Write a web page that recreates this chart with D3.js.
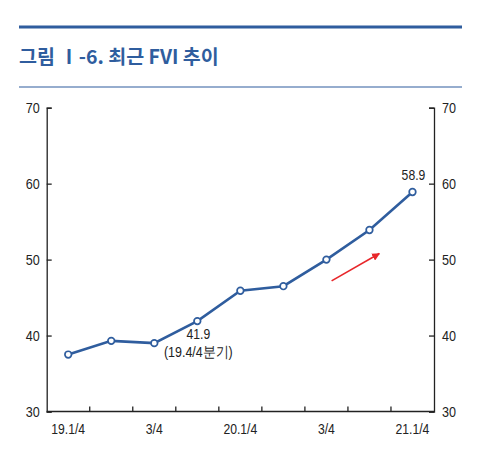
<!DOCTYPE html>
<html>
<head>
<meta charset="utf-8">
<script src="https://cdn.jsdelivr.net/npm/d3@7"></script>
<style>
html,body{margin:0;padding:0;background:#fff;}
svg{display:block;}
</style>
</head>
<body>
<svg id="chart" width="497" height="462"></svg>
<script>
const categories = ["19.1/4","2/4","3/4","4/4","20.1/4","2/4 ","3/4 ","4/4 ","21.1/4"];
const tickLabels = ["19.1/4","","3/4","","20.1/4","","3/4","","21.1/4"];
const values = [37.5, 39.3, 39.0, 41.9, 45.9, 46.5, 50.0, 53.9, 58.9];
const yTicks = [30, 40, 50, 60, 70];
const title = "그림 Ⅰ-6. 최근 FVI 추이";

(function(){
const svg = d3.select("#chart");
const blue = "#2f5d9e";
const font = "'Liberation Sans','Arial',sans-serif";
const condense = (sel, f) => sel.each(function(){
  const L = this.getComputedTextLength();
  if (L > 0) d3.select(this).attr("textLength", L*f).attr("lengthAdjust","spacingAndGlyphs");
});

// header
svg.append("rect").attr("x",19).attr("y",25.5).attr("width",443).attr("height",3).attr("fill",blue);
svg.append("text").attr("x",19).attr("y",64).text(title)
  .attr("fill",blue).attr("font-size",19.5).attr("font-weight","bold")
  .attr("font-family","'Noto Sans CJK KR',sans-serif");
svg.append("rect").attr("x",19).attr("y",86.5).attr("width",443).attr("height",1).attr("fill",blue);

const mLeft = 46.7, mRight = 434, mTop = 107.7, mBottom = 411.5;
const x = d3.scaleBand().domain(categories).range([mLeft, mRight]);
const y = d3.scaleLinear().domain([30,70]).range([mBottom, mTop]);

const axG = svg.append("g").attr("font-family",font);

// y axes
const yl = axG.append("g").attr("transform",`translate(${mLeft},0)`)
  .call(d3.axisRight(y).tickValues(yTicks).tickSize(5).tickFormat(""));
const yr = axG.append("g").attr("transform",`translate(${mRight},0)`)
  .call(d3.axisLeft(y).tickValues(yTicks).tickSize(5).tickFormat(""));
[yl,yr].forEach(g=>{ g.select(".domain").attr("stroke","#222").attr("stroke-width",1.3);
  g.selectAll(".tick line").attr("stroke","#222").attr("stroke-width",1.3); });

axG.selectAll(".ylab-l").data(yTicks).join("text")
  .attr("x",mLeft-7).attr("y",d=>y(d)+5.3).attr("text-anchor","end")
  .attr("font-size",15).attr("fill","#222").text(d=>d).call(condense,0.84);
axG.selectAll(".ylab-r").data(yTicks).join("text")
  .attr("x",mRight+8).attr("y",d=>y(d)+5.3).attr("text-anchor","start")
  .attr("font-size",15).attr("fill","#222").text(d=>d).call(condense,0.84);

// x axis
const bandEdges = categories.slice(1).map(c=>x(c));
axG.append("line").attr("x1",mLeft).attr("x2",mRight).attr("y1",mBottom).attr("y2",mBottom)
  .attr("stroke","#222").attr("stroke-width",1.3);
axG.selectAll(".xt").data(bandEdges).join("line")
  .attr("x1",d=>d).attr("x2",d=>d).attr("y1",mBottom).attr("y2",mBottom-5)
  .attr("stroke","#222").attr("stroke-width",1.3);
axG.selectAll(".xl").data(categories).join("text")
  .attr("x",(d)=>x(d)+x.bandwidth()/2).attr("y",mBottom+22)
  .attr("text-anchor","middle").attr("font-size",14.5).attr("fill","#222")
  .text((d,i)=>tickLabels[i]).call(condense,0.84);

// line
const pts = categories.map((c,i)=>[x(c)+x.bandwidth()/2, y(values[i])]);
svg.append("path").attr("d",d3.line()(pts)).attr("fill","none")
  .attr("stroke",blue).attr("stroke-width",2.6);
svg.selectAll(".pt").data(pts).join("circle")
  .attr("cx",d=>d[0]).attr("cy",d=>d[1]).attr("r",3.3)
  .attr("fill","#fff").attr("stroke",blue).attr("stroke-width",1.7);

// annotations
const p4 = pts[3], p9 = pts[8];
svg.append("text").attr("x",p4[0]+1).attr("y",p4[1]+18).attr("text-anchor","middle")
  .attr("font-family",font).attr("font-size",14.5).attr("fill","#222").text(values[3].toFixed(1)).call(condense,0.84);
svg.append("text").attr("x",p4[0]+1).attr("y",p4[1]+36).attr("text-anchor","middle")
  .attr("font-family",font).attr("font-size",14.5).attr("fill","#222").text("(19.4/4분기)").call(condense,0.86);
svg.append("text").attr("x",p9[0]+1).attr("y",p9[1]-12).attr("text-anchor","middle")
  .attr("font-family",font).attr("font-size",14.5).attr("fill","#222").text(values[8].toFixed(1)).call(condense,0.84);

// red arrow
const defs = svg.append("defs");
defs.append("marker").attr("id","arr").attr("viewBox","0 0 10 10").attr("refX",9).attr("refY",5)
  .attr("markerWidth",5).attr("markerHeight",5).attr("orient","auto")
  .append("path").attr("d","M0,0L10,5L0,10z").attr("fill","#e8262a");
const ax0 = x(categories[6]) + x.bandwidth()*0.62, ax1 = x(categories[7]) + x.bandwidth()*0.73;
svg.append("line").attr("x1",ax0).attr("y1",y(47.2)).attr("x2",ax1).attr("y2",y(50.8))
  .attr("stroke","#e8262a").attr("stroke-width",1.6).attr("marker-end","url(#arr)");
})();
</script>
</body>
</html>
